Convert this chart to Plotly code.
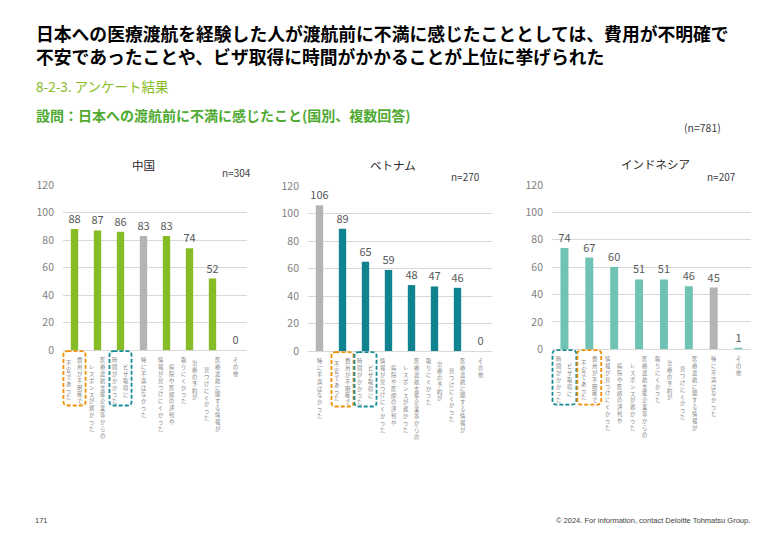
import plotly.graph_objects as go

FONT = "Noto Sans CJK JP"

# ---------------- data ----------------
countries = ["中国", "ベトナム", "インドネシア"]
sample_sizes = ["n=304", "n=270", "n=207"]

# "|" marks the line break of the (vertical) category label
china_labels = [
    "費用が不明確で|不安であった",
    "医療渡航支援企業等からの|レスポンスが遅かった",
    "ビザ取得に|時間がかかった",
    "特に不満はなかった",
    "病院や医師の評判や|情報が見つけにくかった",
    "治療の予約が|取りにくかった",
    "医療渡航に関する情報が|見つけにくかった",
    "その他",
]
china_values = [88, 87, 86, 83, 83, 74, 52, 0]

vietnam_labels = [
    "特に不満はなかった",
    "費用が不明確で|不安であった",
    "ビザ取得に|時間がかかった",
    "病院や医師の評判や|情報が見つけにくかった",
    "医療渡航支援企業等からの|レスポンスが遅かった",
    "治療の予約が|取りにくかった",
    "医療渡航に関する情報が|見つけにくかった",
    "その他",
]
vietnam_values = [106, 89, 65, 59, 48, 47, 46, 0]

indonesia_labels = [
    "ビザ取得に|時間がかかった",
    "費用が不明確で|不安であった",
    "病院や医師の評判や|情報が見つけにくかった",
    "医療渡航支援企業等からの|レスポンスが遅かった",
    "治療の予約が|取りにくかった",
    "医療渡航に関する情報が|見つけにくかった",
    "特に不満はなかった",
    "その他",
]
indonesia_values = [74, 67, 60, 51, 51, 46, 45, 1]

y_ticks = [0, 20, 40, 60, 80, 100, 120]

title_lines = [
    "日本への医療渡航を経験した人が渡航前に不満に感じたこととしては、費用が不明確で",
    "不安であったことや、ビザ取得に時間がかかることが上位に挙げられた",
]
section_text = "8-2-3. アンケート結果"
question_text = "設問：日本への渡航前に不満に感じたこと(国別、複数回答)"
total_n_text = "(n=781)"
page_no = "171"
footer_text = "© 2024. For information, contact Deloitte Tohmatsu Group."

# ---------------- styling ----------------
main_colors = ["#86BC25", "#0F838F", "#6FC2B4"]
gray_bar = "#B4B4B4"
no_complaint = "特に不満はなかった"
cost_label = "費用が不明確で|不安であった"
visa_label = "ビザ取得に|時間がかかった"
box_colors = {cost_label: "#F0900A", visa_label: "#178C98"}

# page offset (browser body margin) compensation; figure fits the window exactly
OFF = 8
W, H = 780 - 2 * OFF, 540 - 2 * OFF
# plot-area pixel boxes (page coords): left, right, top(120), bottom(0)
panels = [(63, 247, 182, 352), (308, 492, 183, 353), (552, 751, 182, 351)]
title_pos = [(143, 161), (393, 161), (655, 160)]
n_pos = [(253, 169), (482, 173), (738, 173)]

datasets = [
    (china_labels, china_values),
    (vietnam_labels, vietnam_values),
    (indonesia_labels, indonesia_values),
]


def px(x):
    return (x - OFF) / W


def py(y):
    return 1 - (y - OFF) / H


fig = go.Figure()
annotations = []
shapes = []

LBL_SIZE = 5.3
STEP = LBL_SIZE * 1.3
COL_GAP = 11.5

for j, ((labels, values), (l, r, t, b)) in enumerate(zip(datasets, panels)):
    ax = "" if j == 0 else str(j + 1)
    cats = [s.replace("|", "") for s in labels]
    colors = [gray_bar if s == no_complaint else main_colors[j] for s in labels]
    fig.add_trace(go.Bar(
        x=cats, y=values, marker_color=colors, marker_line_width=0,
        width=0.32, text=[str(v) for v in values], textposition="outside",
        constraintext="none",
        textfont=dict(family=FONT, size=11, color="#595959"),
        cliponaxis=False, showlegend=False, hoverinfo="x+y",
        xaxis="x" + ax, yaxis="y" + ax,
    ))
    fig.update_layout(**{
        "xaxis" + ax: dict(domain=[px(l), px(r)], anchor="y" + ax, type="category",
                           showticklabels=False, showgrid=False, showline=False,
                           zeroline=False, ticks="", range=[-0.5, len(cats) - 0.5],
                           fixedrange=True),
        "yaxis" + ax: dict(domain=[py(b), py(t)], anchor="x" + ax, range=[0, 120],
                           tickvals=y_ticks, showgrid=True, gridcolor="#D9D9D9",
                           gridwidth=1, zeroline=True, zerolinecolor="#D9D9D9",
                           zerolinewidth=1, showline=False, ticks="",
                           ticklabelstandoff=8,
                           tickfont=dict(family=FONT, size=10.5, color="#7F7F7F"),
                           fixedrange=True),
    })

    # panel title & n
    annotations.append(dict(text=countries[j], x=px(title_pos[j][0]), y=py(title_pos[j][1]),
                            xref="paper", yref="paper", showarrow=False,
                            xanchor="center", yanchor="middle",
                            font=dict(family=FONT, size=11.5, color="#262626")))
    annotations.append(dict(text=sample_sizes[j], x=px(n_pos[j][0]), y=py(n_pos[j][1]),
                            xref="paper", yref="paper", showarrow=False,
                            xanchor="right", yanchor="middle",
                            font=dict(family=FONT, size=10, color="#404040")))

    # vertical category labels
    n_cat = len(labels)
    for i, lab in enumerate(labels):
        cols = lab.split("|")
        nc = len(cols)
        maxlen = max(len(c) for c in cols)
        for k, col in enumerate(cols):
            annotations.append(dict(
                text="<br>".join(list(col)),
                x=cats[i], xref="x" + ax, y=py(b + 4), yref="paper",
                xanchor="center", yanchor="top", showarrow=False,
                xshift=((nc - 1) / 2 - k) * COL_GAP,
                yshift=-(maxlen - len(col)) / 2 * STEP,
                font=dict(family=FONT, size=LBL_SIZE, color="#7F7F7F"),
            ))
        if lab in box_colors:
            cx = l + (i + 0.5) * (r - l) / n_cat
            half = 0.48 * (r - l) / n_cat
            x0, x1 = px(cx - half), px(cx + half)
            y1, y0 = py(b + 1), py(b + 57)
            rx, ry = 4 / W, 4 / H
            path = (f"M {x0+rx},{y1} L {x1-rx},{y1} Q {x1},{y1} {x1},{y1-ry} "
                    f"L {x1},{y0+ry} Q {x1},{y0} {x1-rx},{y0} L {x0+rx},{y0} "
                    f"Q {x0},{y0} {x0},{y0+ry} L {x0},{y1-ry} Q {x0},{y1} {x0+rx},{y1} Z")
            shapes.append(dict(type="path", path=path, xref="paper", yref="paper",
                               line=dict(color=box_colors[lab], width=1.8, dash="4px,2px"),
                               fillcolor="rgba(0,0,0,0)", layer="above"))

# header texts
annotations += [
    dict(text="<br>".join(title_lines),
         x=px(34), y=py(37), xref="paper", yref="paper", xanchor="left", yanchor="middle",
         align="left", showarrow=False,
         font=dict(family=FONT, size=17.8, color="#000000", weight="bold")),
    dict(text=section_text,
         x=px(34), y=py(80), xref="paper", yref="paper", xanchor="left", yanchor="middle",
         showarrow=False, font=dict(family=FONT, size=13.5, color="#86BC25")),
    dict(text=question_text,
         x=px(34), y=py(110), xref="paper", yref="paper", xanchor="left", yanchor="middle",
         showarrow=False, font=dict(family=FONT, size=14, color="#4FAA32", weight="bold")),
    dict(text=total_n_text,
         x=px(723), y=py(123), xref="paper", yref="paper", xanchor="right", yanchor="middle",
         showarrow=False, font=dict(family=FONT, size=10.5, color="#404040")),
    dict(text=page_no,
         x=px(33), y=py(527), xref="paper", yref="paper", xanchor="left", yanchor="middle",
         showarrow=False, font=dict(family="Liberation Sans", size=7.5, color="#404040")),
    dict(text=footer_text,
         x=px(752), y=py(527), xref="paper", yref="paper", xanchor="right", yanchor="middle",
         showarrow=False, font=dict(family="Liberation Sans", size=7.5, color="#404040")),
]

fig.update_layout(
    width=W, height=H, margin=dict(l=0, r=0, t=0, b=0),
    paper_bgcolor="white", plot_bgcolor="white",
    bargap=0.65, annotations=annotations, shapes=shapes,
    font=dict(family=FONT),
)

fig.write_html("out.html", config={"displayModeBar": False})
